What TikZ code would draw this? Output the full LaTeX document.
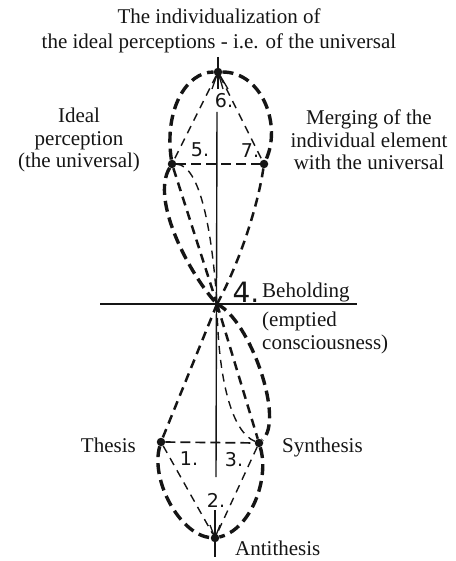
\documentclass[tikz,border=0pt]{standalone}
\usepackage{fontspec}
\setmainfont{Liberation Serif}
\newfontfamily\handfont{DejaVu Sans}
\definecolor{cInk}{HTML}{151515}
\tikzset{
  axisl/.style={line width=1.4pt, cInk},
  outerd/.style={line width=3.4pt, cInk, dash pattern=on 11pt off 6pt},
  midd/.style={line width=2.5pt, cInk, dash pattern=on 9pt off 6pt},
  thind/.style={line width=1.4pt, cInk, dash pattern=on 8pt off 6pt},
  crossd/.style={line width=1.7pt, cInk, dash pattern=on 10pt off 5pt},
  tick/.style={line width=1.3pt, cInk},
  dot/.style={circle, fill=cInk, inner sep=0pt, minimum size=8.5pt},
  lbl/.style={font=\fontsize{21}{22.5}\selectfont, align=center, inner sep=0pt, text=cInk},
  num/.style={font=\handfont\fontsize{19}{19}\selectfont, inner sep=1pt, text=cInk},
}

\begin{document}
\begin{tikzpicture}[x=1pt,y=-1pt]
  \useasboundingbox (0,0) rectangle (455,561);
  % points of the figure
  \node[dot] (n6) at (218,72) {};
  \node[dot] (n5) at (172,164) {};
  \node[dot] (n7) at (264,164) {};
  \coordinate (n4) at (217,304);
  \node[dot] (n1) at (161,442) {};
  \node[dot] (n3) at (259,443) {};
  \node[dot] (n2) at (215,538) {};

  % axes
  \coordinate (atop) at (218,57);
  \coordinate (a6) at (217,112);
  \coordinate (a2up) at (216,477);
  \coordinate (a2lo) at (215,510);
  \coordinate (abot) at (215,557);
  \coordinate (hl) at (100,304);
  \coordinate (hr) at (357,304);
  \draw[axisl] (atop) -- (n6.center);
  \draw[axisl] (a6) -- (a2up);
  \draw[axisl] (a2lo) -- (abot);
  \draw[axisl] (hl) -- (hr);

  % upper lobe
  \draw[outerd] (n5) .. controls (164,110) and (186,72) .. (n6);
  \draw[outerd] (n6) .. controls (262,72) and (282,125) .. (n7);
  \draw[thind] (n6) -- (n5);
  \draw[thind] (n6) -- (n7);
  \draw[crossd] (n5) -- (n7);
  \foreach \dx in {-6,0,5,10}
    \draw[tick] (n6.center) -- ++(\dx,17);
  \draw[outerd] (n5) .. controls (150,200) and (190,275) .. (n4);
  \draw[midd] (n5) -- (n4);
  \draw[thind] (n5) .. controls (200,165) and (212,230) .. (n4);
  \draw[midd] (n7) .. controls (258,205) and (240,262) .. (n4);

  % lower lobe
  \draw[midd] (n4) -- (n1);
  \draw[outerd] (n4) .. controls (250,320) and (285,420) .. (n3);
  \draw[midd] (n4) -- (n3);
  \draw[thind] (n4) .. controls (218,380) and (232,432) .. (n3);
  \draw[crossd] (n1) -- (n3);
  \draw[outerd] (n1) .. controls (150,480) and (180,535) .. (n2);
  \draw[outerd] (n3) .. controls (270,480) and (250,530) .. (n2);
  \draw[thind] (n1) -- (n2);
  \draw[thind] (n3) -- (n2);
  \foreach \dx in {-5,5}
    \draw[tick] (n2.center) -- ++(\dx,-13);

  % numbers
  \node[num] (l6) at (224,101) {6.};
  \node[num] (l5) at (200,150) {5.};
  \node[num] (l7) at (250,151) {7.};
  \node[num, font=\handfont\fontsize{28}{28}\selectfont] (l4) at (246,292) {4.};
  \node[num] (l1) at (189,459) {1.};
  \node[num] (l3) at (234,460) {3.};
  \node[num] (l2) at (216,500) {2.};

  % labels
  \node[lbl, font=\fontsize{21}{25}\selectfont] (title) at (219,30.5)
    {The individualization of\\the ideal perceptions - i.e. of the universal};
  \node[lbl] (ideal) at (79,140) {Ideal\\perception\\(the universal)};
  \node[lbl] (merge) at (369,140) {Merging of the\\individual element\\with the universal};
  \node[lbl, anchor=base west] (behold) at (262,297) {Beholding};
  \node[lbl, anchor=west, align=left] (empt) at (262,333) {(emptied\\consciousness)};
  \node[lbl, anchor=base east] (thes) at (136,452) {Thesis};
  \node[lbl, anchor=base west] (synth) at (282,452) {Synthesis};
  \node[lbl, anchor=base west] (anti) at (235,555) {Antithesis};
\end{tikzpicture}
\end{document}
